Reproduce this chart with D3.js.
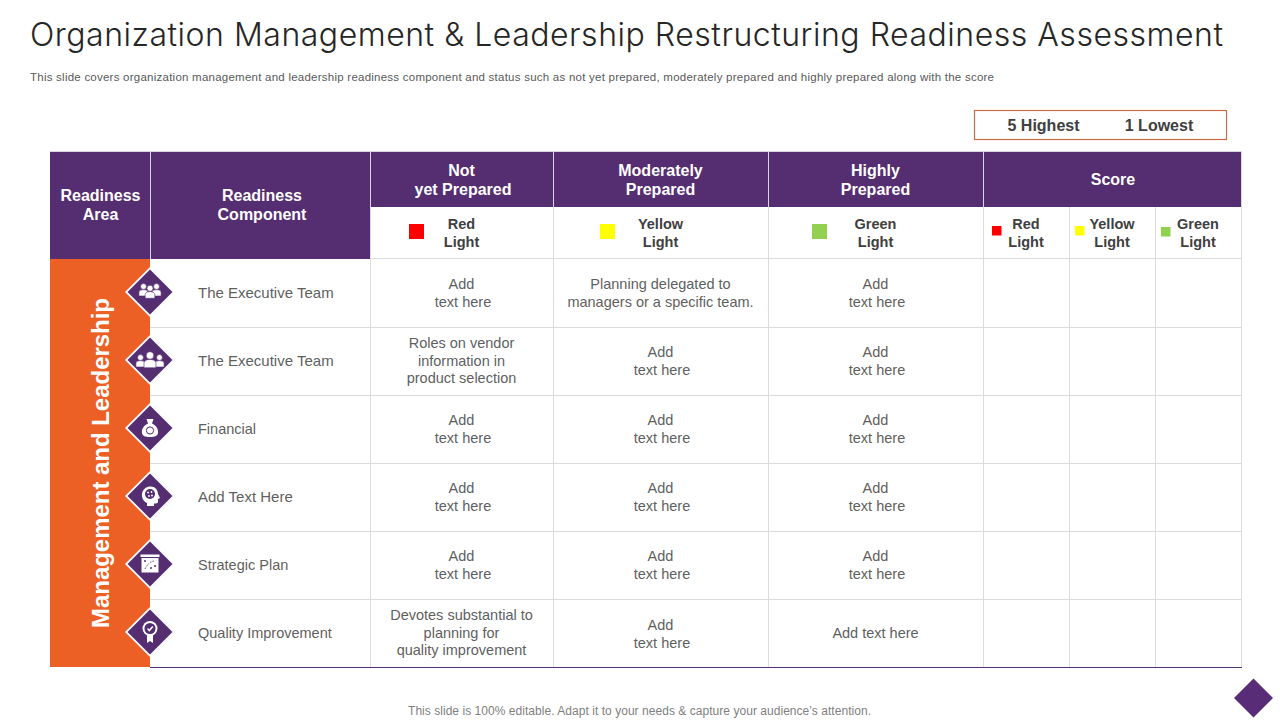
<!DOCTYPE html>
<html>
<head>
  <meta charset="utf-8">
  <title>Readiness Assessment</title>
  <script src="https://d3js.org/d3.v7.min.js"></script>
  <style>
    html, body { margin: 0; padding: 0; background: #fff; }
    svg { display: block; font-family: "Liberation Sans", Arial, sans-serif; }
  </style>
</head>
<body>
  <div id="chart"></div>
  <script>
    // Table content
    const titleText = "Organization Management & Leadership Restructuring Readiness Assessment";
    const subtitleText = "This slide covers organization management and leadership readiness component and status such as not yet prepared, moderately prepared and highly prepared along with the score";
    const footerText = "This slide is 100% editable. Adapt it to your needs & capture your audience\u2019s attention.";
    const scaleNotes = ["5 Highest", "1 Lowest"];
    const areaLabel = "Management and Leadership";

    const columnKeys = ["area", "component", "notYet", "moderate", "highly", "scoreRed", "scoreYellow", "scoreGreen"];
    const components = ["The Executive Team", "The Executive Team", "Financial", "Add Text Here", "Strategic Plan", "Quality Improvement"];
    const iconNames = ["team", "people", "money", "head", "board", "medal"];
    const notYetCells = ["Add\ntext here", "Roles on vendor\ninformation in\nproduct selection", "Add\ntext here", "Add\ntext here", "Add\ntext here", "Devotes substantial to\nplanning for\nquality improvement"];
    const moderateCells = ["Planning delegated to\nmanagers or a specific team.", "Add\ntext here", "Add\ntext here", "Add\ntext here", "Add\ntext here", "Add\ntext here"];
    const highlyCells = ["Add\ntext here", "Add\ntext here", "Add\ntext here", "Add\ntext here", "Add\ntext here", "Add text here"];
    const statusHeads = ["Not\nyet Prepared", "Moderately\nPrepared", "Highly\nPrepared"];
    const lightNames = ["Red\nLight", "Yellow\nLight", "Green\nLight"];
    const lightColors = ["#ff0000", "#ffff00", "#92d050"];

    const width = 1280, height = 720;
    const purple = "#552d71", orange = "#ec6026", grid = "#dcdcdc";
    const tableTop = 151, headMid = 207, headBottom = 259, tableBottom = 667;
    const lineHeight = 18;

    const colEdge = d3.scaleOrdinal()
      .domain(columnKeys.concat("end"))
      .range([50, 150, 370, 553, 768, 983, 1069, 1155, 1241]);
    const colRight = key => colEdge(columnKeys[columnKeys.indexOf(key) + 1] || "end");
    const colMid = key => (colEdge(key) + colRight(key)) / 2;
    const rowY = d3.scaleBand().domain(d3.range(components.length)).range([headBottom, tableBottom]);

    const svg = d3.select("#chart").append("svg")
      .attr("width", width).attr("height", height);

    // multi-line centred text, cy is the middle of the block
    function block(parent, text, x, cy, o) {
      const lines = text.split("\n");
      const lh = o.lh || lineHeight;
      const t = parent.append("text")
        .attr("text-anchor", "middle")
        .attr("font-size", o.size)
        .attr("font-weight", o.weight || "normal")
        .attr("fill", o.fill);
      t.selectAll("tspan").data(lines).join("tspan")
        .attr("x", d => x + (d === "text here" || d === "yet Prepared" ? 1.5 : 0))
        .attr("y", (d, i) => cy + (i - (lines.length - 1) / 2) * lh + o.size * 0.36)
        .text(d => d);
      return t;
    }

    // title block
    svg.append("text").attr("x", 30).attr("y", 46)
      .attr("font-family", "Inter, sans-serif").attr("font-weight", 300)
      .attr("font-size", 32).attr("fill", "#262626")
      .attr("textLength", 1193).attr("lengthAdjust", "spacing")
      .text(titleText);
    svg.append("text").attr("x", 30).attr("y", 81)
      .attr("font-size", 11.5).attr("fill", "#595959")
      .attr("textLength", 964).attr("lengthAdjust", "spacing")
      .text(subtitleText);

    // highest / lowest note
    svg.append("rect").attr("x", 974.5).attr("y", 110.5).attr("width", 252).attr("height", 29)
      .attr("fill", "#fff").attr("stroke", "#cb6b45").attr("stroke-width", 1.2);
    svg.selectAll(".note").data(scaleNotes).join("text")
      .attr("class", "note")
      .attr("x", (d, i) => [1043.5, 1159][i]).attr("y", 131)
      .attr("text-anchor", "middle").attr("font-size", 16).attr("font-weight", "bold")
      .attr("fill", "#404040").text(d => d);

    // header fills
    svg.append("rect").attr("x", colEdge("area")).attr("y", tableTop)
      .attr("width", colEdge("notYet") - colEdge("area")).attr("height", headBottom - tableTop).attr("fill", purple);
    svg.append("rect").attr("x", colEdge("notYet")).attr("y", tableTop)
      .attr("width", colEdge("end") - colEdge("notYet")).attr("height", headMid - tableTop).attr("fill", purple);

    // body grid
    const gridLines = svg.append("g").attr("stroke", grid).attr("stroke-width", 1);
    gridLines.selectAll(".h").data(d3.range(1, components.length)).join("line")
      .attr("x1", colEdge("component")).attr("x2", colEdge("end") + 1)
      .attr("y1", d => rowY(d) + 0.5).attr("y2", d => rowY(d) + 0.5);
    gridLines.append("line")
      .attr("x1", colEdge("notYet")).attr("x2", colEdge("end") + 1)
      .attr("y1", headBottom - 0.5).attr("y2", headBottom - 0.5);
    gridLines.selectAll(".v").data(columnKeys.slice(2).concat("end")).join("line")
      .attr("x1", d => colEdge(d) + 0.5).attr("x2", d => colEdge(d) + 0.5)
      .attr("y1", headMid)
      .attr("y2", tableBottom);

    // light lines between header cells
    const headLines = svg.append("g").attr("stroke", "#dcd3e4").attr("stroke-width", 1);
    headLines.selectAll(".t").data(columnKeys.slice(1, 6)).join("line")
      .attr("x1", d => colEdge(d) + 0.5).attr("x2", d => colEdge(d) + 0.5)
      .attr("y1", tableTop)
      .attr("y2", d => d === "component" ? headBottom : headMid);
    headLines.append("line").attr("x1", colEdge("area")).attr("x2", colEdge("end") + 1)
      .attr("y1", tableTop + 0.5).attr("y2", tableTop + 0.5);
    headLines.append("line").attr("x1", colEdge("end") + 0.5).attr("x2", colEdge("end") + 0.5)
      .attr("y1", tableTop).attr("y2", headMid);

    svg.append("line").attr("x1", colEdge("component")).attr("x2", colEdge("end") + 1)
      .attr("y1", tableBottom + 0.5).attr("y2", tableBottom + 0.5)
      .attr("stroke", purple).attr("stroke-width", 1);

    // header text
    const headStyle = { size: 16, weight: "bold", fill: "#fff", lh: 19 };
    block(svg, "Readiness\nArea", colMid("area") + 0.5, 205, headStyle);
    block(svg, "Readiness\nComponent", 262, 205, headStyle);
    ["notYet", "moderate", "highly"].forEach((k, i) => {
      block(svg, statusHeads[i], colMid(k), 179.5, headStyle);
    });
    block(svg, "Score", colEdge("scoreRed") + 130, 179.5, headStyle);

    // light legend row: big swatches under the status heads, small under the score
    const lightStyle = { size: 14.5, weight: "bold", fill: "#404040", lh: 18 };
    const bigSwatchX = [409, 600, 812], bigTextX = [461.5, 660.5, 875.5];
    lightNames.forEach((name, i) => {
      svg.append("rect").attr("x", bigSwatchX[i]).attr("y", 224).attr("width", 15).attr("height", 15)
        .attr("fill", lightColors[i]);
      block(svg, name, bigTextX[i], 232.5, lightStyle);
    });
    const smallSwatchX = [992, 1075, 1161];
    ["scoreRed", "scoreYellow", "scoreGreen"].forEach((k, i) => {
      svg.append("rect").attr("x", smallSwatchX[i]).attr("y", i === 2 ? 227 : 226).attr("width", 9.5).attr("height", 9.5)
        .attr("fill", lightColors[i]);
      block(svg, lightNames[i], colMid(k), 232.5, lightStyle);
    });

    // orange area panel
    svg.append("rect").attr("x", colEdge("area")).attr("y", headBottom)
      .attr("width", colEdge("component") - colEdge("area")).attr("height", tableBottom - headBottom)
      .attr("fill", orange);
    svg.append("text")
      .attr("transform", `translate(109,463) rotate(-90)`)
      .attr("text-anchor", "middle").attr("font-size", 23.5).attr("font-weight", "bold")
      .attr("fill", "#fff").attr("textLength", 330).attr("lengthAdjust", "spacingAndGlyphs")
      .text(areaLabel);

    // body cell text
    const bodyStyle = { size: 14.5, fill: "#5f5f5f", lh: 18 };
    const tightStyle = { size: 14.5, fill: "#5f5f5f", lh: 17.5 };
    components.forEach((name, r) => {
      const cy = rowY(r) + rowY.bandwidth() / 2 - 0.5;
      svg.append("text").attr("x", 198).attr("y", cy + 5)
        .attr("font-size", [0, 1, 3].includes(r) ? 15 : 14.5).attr("fill", "#5f5f5f").text(name);
      block(svg, notYetCells[r], colMid("notYet"), cy, notYetCells[r].split("\n").length > 2 ? tightStyle : bodyStyle);
      block(svg, moderateCells[r], colMid("moderate"), r === 5 ? cy + 1 : cy, bodyStyle);
      block(svg, highlyCells[r], colMid("highly"), cy, bodyStyle);
    });

    // icon glyphs, drawn around 0,0 in white on the purple diamond
    function person(g, x, y, s) {
      g.append("circle").attr("cx", x).attr("cy", y - 3.5 * s).attr("r", 2.9 * s)
        .attr("fill", "#fff").attr("stroke", purple).attr("stroke-width", 0.6);
      g.append("path").attr("fill", "#fff").attr("stroke", purple).attr("stroke-width", 0.6)
        .attr("d", `M${x - 4.6 * s},${y + 6 * s}L${x - 4.6 * s},${y + 2 * s}Q${x - 4 * s},${y - 0.4 * s} ${x},${y - 0.4 * s}Q${x + 4 * s},${y - 0.4 * s} ${x + 4.6 * s},${y + 2 * s}L${x + 4.6 * s},${y + 6 * s}Z`);
    }
    const iconDraw = {
      team(g) {
        person(g, -6.5, -2, 1); person(g, 6.5, -2, 1); person(g, 0, 0, 1.05);
      },
      people(g) {
        person(g, -9.5, 1, 1); person(g, 9.5, 1, 1); person(g, 0, 0, 1.3);
      },
      money(g) {
        g.append("path").attr("fill", "#fff")
          .attr("d", "M-3.5,-9L3.5,-9L2,-4.5C7,-2 8.5,2 8,5C7.5,8 5,9 0,9C-5,9 -7.5,8 -8,5C-8.5,2 -7,-2 -2,-4.5Z");
        g.append("circle").attr("cx", 0).attr("cy", 2.5).attr("r", 3.6).attr("fill", "none")
          .attr("stroke", purple).attr("stroke-width", 1);
      },
      head(g) {
        g.append("path").attr("fill", "#fff")
          .attr("d", "M-3,10L-3,7C-7,5 -8.5,1.5 -8,-2C-7.4,-7 -3.5,-9.5 0.5,-9.5C5,-9.5 8,-6 8,-2L10,2L8,3L8,6C8,7.5 6.5,7.5 4,7.5L4,10Z");
        g.append("circle").attr("cx", 0).attr("cy", -2).attr("r", 5).attr("fill", purple);
        g.selectAll(".dot").data([[-2, -3.5], [1.5, -4], [2, -0.5], [-1, 0]]).join("circle")
          .attr("cx", d => d[0]).attr("cy", d => d[1]).attr("r", 0.9).attr("fill", "#fff");
      },
      board(g) {
        g.append("rect").attr("x", -9.5).attr("y", -9.5).attr("width", 19).attr("height", 2.5).attr("fill", "#fff");
        g.append("rect").attr("x", -8.5).attr("y", -6).attr("width", 17).attr("height", 14.5).attr("fill", "#fff");
        g.append("path").attr("fill", "none").attr("stroke", purple).attr("stroke-width", 0.9)
          .attr("stroke-dasharray", "1.5 1.2").attr("d", "M-5,5Q-1,-3 5,-3");
        g.selectAll(".dot").data([[-5, -3], [1, 4], [5, 2]]).join("circle")
          .attr("cx", d => d[0]).attr("cy", d => d[1]).attr("r", 1).attr("fill", purple);
      },
      medal(g) {
        g.append("path").attr("fill", "#fff").attr("d", "M-3,2L3,2L3,11L0,9L-3,11Z");
        g.append("circle").attr("cx", 0).attr("cy", -3.5).attr("r", 7.5).attr("fill", "#fff");
        g.append("circle").attr("cx", 0).attr("cy", -3.5).attr("r", 5.5).attr("fill", purple);
        g.append("path").attr("fill", "none").attr("stroke", "#fff").attr("stroke-width", 1.5)
          .attr("d", "M-2.5,-3.5L-0.7,-1.5L2.8,-5.5");
      }
    };

    const diamondY = r => rowY(r) + rowY.bandwidth() / 2 - 1;
    const diamonds = svg.selectAll(".diamond").data(iconNames).join("g")
      .attr("class", "diamond")
      .attr("transform", (d, i) => `translate(150,${diamondY(i)})`);
    diamonds.append("path").attr("d", "M-25,0L0,-25L25,0L0,25Z").attr("fill", "#fff");
    diamonds.append("path").attr("d", "M-22.5,0L0,-22.5L22.5,0L0,22.5Z").attr("fill", purple);
    diamonds.each(function(d) { iconDraw[d](d3.select(this)); });

    // footer
    svg.append("text").attr("x", 639.5).attr("y", 715).attr("text-anchor", "middle")
      .attr("font-size", 12).attr("fill", "#7f7f7f")
      .attr("textLength", 463).attr("lengthAdjust", "spacing").text(footerText);
    svg.append("path").attr("transform", "translate(1253.5,698)")
      .attr("d", "M-19.5,0L0,-19.5L19.5,0L0,19.5Z").attr("fill", "#582c77");
  </script>
</body>
</html>
